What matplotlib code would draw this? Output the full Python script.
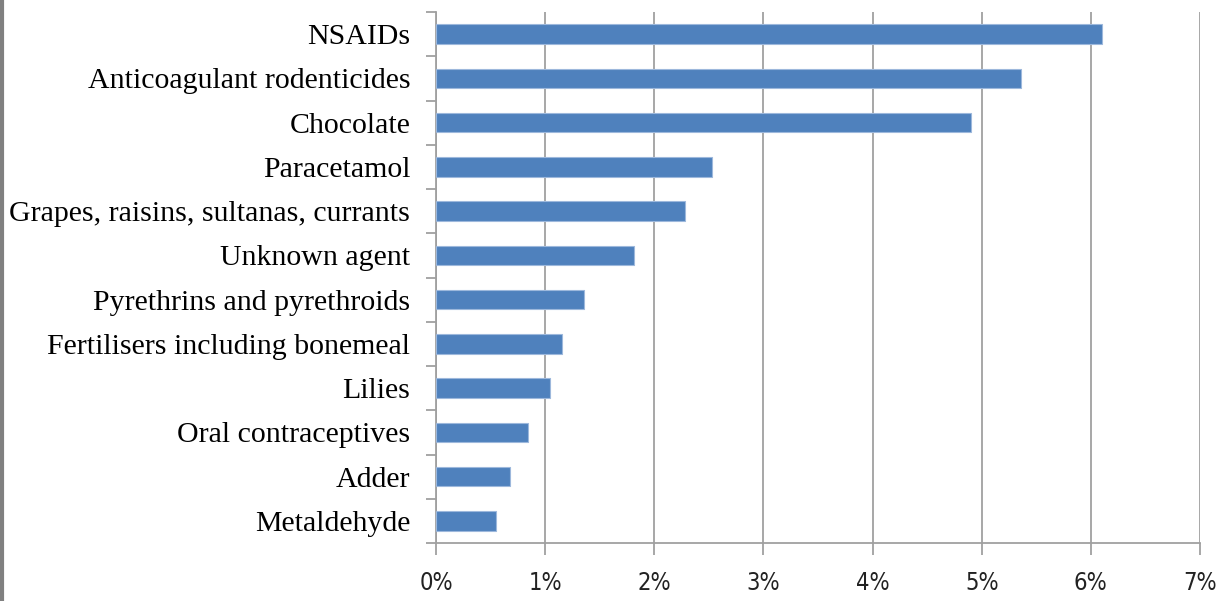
import matplotlib.pyplot as plt
from matplotlib.ticker import PercentFormatter

categories = [
    "NSAIDs",
    "Anticoagulant rodenticides",
    "Chocolate",
    "Paracetamol",
    "Grapes, raisins, sultanas, currants",
    "Unknown agent",
    "Pyrethrins and pyrethroids",
    "Fertilisers including bonemeal",
    "Lilies",
    "Oral contraceptives",
    "Adder",
    "Metaldehyde",
]
values = [6.10, 5.36, 4.90, 2.53, 2.28, 1.81, 1.36, 1.15, 1.04, 0.84, 0.68, 0.55]
xticks = [0, 1, 2, 3, 4, 5, 6, 7]

fig = plt.figure(figsize=(12.22, 6.01), dpi=100)
ax = fig.add_axes([0.3568, 0.0965, 0.982 - 0.3568, 0.980 - 0.0965])

pos = list(range(len(categories)))[::-1]
ax.barh(pos, values, height=0.44, color="#4f81bd", edgecolor="#9db8dc", linewidth=0.8, zorder=3)

ax.set_xlim(0, 7)
ax.set_ylim(-0.5, len(categories) - 0.5)
ax.set_xticks(xticks)
ax.xaxis.set_major_formatter(PercentFormatter(decimals=0))
ax.grid(axis="x", color="#a0a0a0", linewidth=1.3, zorder=0)

# category labels between separator ticks
ax.set_yticks([p - 0.5 for p in range(len(categories) + 1)])
ax.set_yticklabels([])
ax.set_yticks(pos, minor=True)
ax.set_yticklabels(categories, minor=True, fontfamily="Liberation Serif", fontsize=21.5)
ax.tick_params(axis="y", which="minor", length=0, pad=18.5)
ax.tick_params(axis="y", which="major", length=7, color="#a0a0a0", width=1.3)
ax.tick_params(axis="x", length=8.5, color="#a0a0a0", width=1.3, pad=12)
for lab in ax.get_xticklabels():
    lab.set_fontfamily("DejaVu Sans")
    lab.set_fontstretch("condensed")
    lab.set_fontsize(17)
    lab.set_color("#222222")

for s in ["top", "right"]:
    ax.spines[s].set_visible(False)
ax.spines["left"].set_color("#a0a0a0")
ax.spines["left"].set_linewidth(1.3)
ax.spines["bottom"].set_color("#a0a0a0")
ax.spines["bottom"].set_linewidth(1.3)

# grey frame edge on the left of the picture
fig.add_artist(plt.Line2D([0.002, 0.002], [0, 1], color="#808080", linewidth=3, transform=fig.transFigure))

plt.savefig("out.png", dpi=100)
